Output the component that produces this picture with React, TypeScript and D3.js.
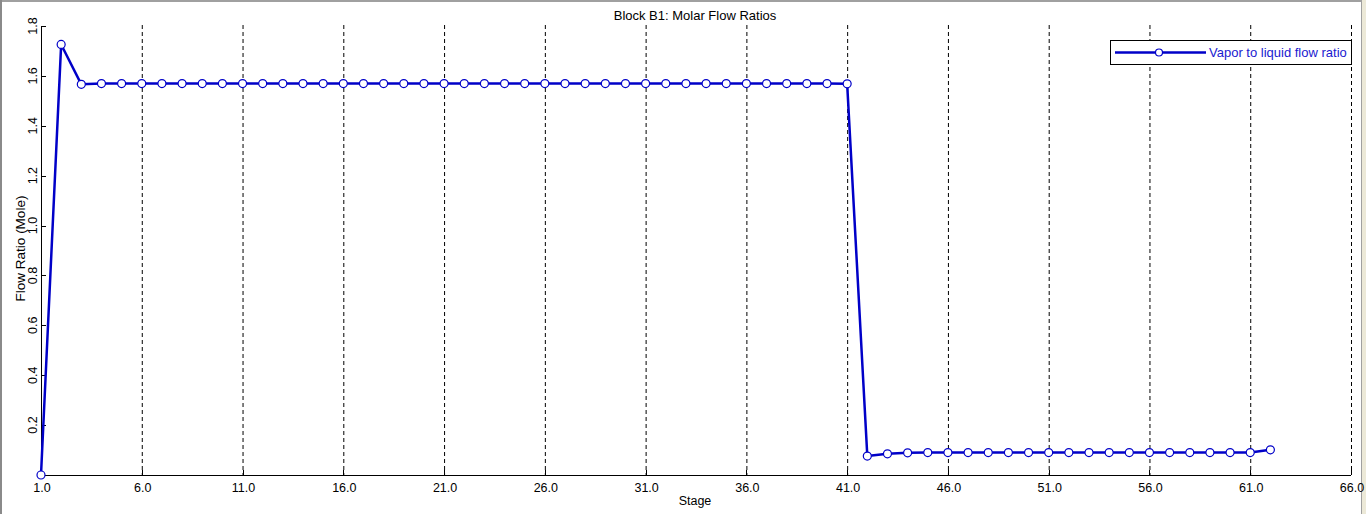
import { useEffect, useRef } from "react";
import * as d3 from "d3";

// stages 1..62 and the vapor/liquid molar flow ratio
const stages = d3.range(1, 63);
const vlRatio = [
    0.0, 1.726, 1.566, 1.569, 1.569, 1.569, 1.569, 1.569, 1.569, 1.569,
    1.569, 1.569, 1.569, 1.569, 1.569, 1.569, 1.569, 1.569, 1.569, 1.569,
    1.569, 1.569, 1.569, 1.569, 1.569, 1.569, 1.569, 1.569, 1.569, 1.569,
    1.569, 1.569, 1.569, 1.569, 1.569, 1.569, 1.569, 1.569, 1.569, 1.569,
    1.568, 0.076, 0.085, 0.089, 0.09, 0.09, 0.09, 0.09, 0.09, 0.09,
    0.09, 0.09, 0.09, 0.09, 0.09, 0.09, 0.09, 0.09, 0.09, 0.09,
    0.09, 0.101,
];
const xTicks = [1, 6, 11, 16, 21, 26, 31, 36, 41, 46, 51, 56, 61, 66];
const yTicks = [0.2, 0.4, 0.6, 0.8, 1.0, 1.2, 1.4, 1.6, 1.8];

const W = 1366;
const H = 514;
const LINE = "#0000c8";
const FONT = "Arial, 'Liberation Sans', sans-serif";

export default function App() {
    const svgRef = useRef<SVGSVGElement>(null);

    useEffect(() => {
        if (!svgRef.current) return;
        const svg = d3.select(svgRef.current);
        svg.selectAll("*").remove();

        const margin = { top: 26, right: 15, bottom: 39, left: 41 };
        const x = d3.scaleLinear().domain([1, 66]).range([margin.left, W - margin.right]);
        const y = d3.scaleLinear().domain([0, 1.8]).range([H - margin.bottom, margin.top]);

        svg.append("rect").attr("width", W).attr("height", H).attr("fill", "#fff");

        // window frame
        svg.append("rect").attr("x", 0).attr("y", 0).attr("width", W).attr("height", 2).attr("fill", "#a0a0a0");
        svg.append("rect").attr("x", 0).attr("y", 0).attr("width", 2).attr("height", H).attr("fill", "#8a8a8a");
        svg.append("rect").attr("x", 1362).attr("y", 0).attr("width", 4).attr("height", H).attr("fill", "#ece9d8");
        svg.append("rect").attr("x", 1361).attr("y", 0).attr("width", 1).attr("height", H).attr("fill", "#a0a0a0");

        // dashed vertical grid
        svg.append("g").selectAll("line").data(xTicks.slice(1)).join("line")
            .attr("x1", d => x(d) + 0.5).attr("x2", d => x(d) + 0.5)
            .attr("y1", y(1.8) - 1).attr("y2", y(0))
            .attr("stroke", "#000").attr("stroke-width", 1).attr("stroke-dasharray", "4,3");

        // axes
        const axisG = svg.append("g").attr("shape-rendering", "crispEdges");
        axisG.append("line").attr("x1", x(1)).attr("x2", x(66)).attr("y1", y(0) + 0.5).attr("y2", y(0) + 0.5)
            .attr("stroke", "#000");
        axisG.append("line").attr("x1", x(1) + 0.5).attr("x2", x(1) + 0.5).attr("y1", y(1.8)).attr("y2", y(0))
            .attr("stroke", "#000");
        axisG.selectAll("line.yt").data(yTicks).join("line").attr("class", "yt")
            .attr("x1", x(1)).attr("x2", x(1) + 5).attr("y1", d => Math.round(y(d)) + 0.5).attr("y2", d => Math.round(y(d)) + 0.5)
            .attr("stroke", "#000");
        axisG.selectAll("line.xt").data(xTicks).join("line").attr("class", "xt")
            .attr("x1", d => x(d) + 0.5).attr("x2", d => x(d) + 0.5).attr("y1", y(0)).attr("y2", y(0) - 5)
            .attr("stroke", "#000");

        svg.append("g").selectAll("text").data(xTicks).join("text")
            .attr("x", d => x(d) + 1).attr("y", y(0) + 17)
            .attr("text-anchor", "middle").attr("font-family", FONT).attr("font-size", 12.5).attr("fill", "#000")
            .text(d => d.toFixed(1));

        svg.append("g").selectAll("text").data(yTicks).join("text")
            .attr("transform", d => `translate(${x(1) - 4},${y(d)}) rotate(-90)`)
            .attr("text-anchor", "middle").attr("font-family", FONT).attr("font-size", 12.5).attr("fill", "#000")
            .text(d => d.toFixed(1));

        svg.append("text").attr("x", (x(1) + x(66)) / 2 - 1).attr("y", H - 9)
            .attr("text-anchor", "middle").attr("font-family", FONT).attr("font-size", 12.5).attr("fill", "#000")
            .text("Stage");

        svg.append("text").attr("transform", `translate(${25},${(y(0) + y(1.8)) / 2 - 2}) rotate(-90)`)
            .attr("text-anchor", "middle").attr("font-family", FONT).attr("font-size", 13.5).attr("fill", "#000")
            .text("Flow Ratio (Mole)");

        svg.append("text").attr("x", (x(1) + x(66)) / 2 - 1).attr("y", 20)
            .attr("text-anchor", "middle").attr("font-family", FONT).attr("font-size", 13).attr("fill", "#000")
            .text("Block B1: Molar Flow Ratios");

        // series
        const pts = stages.map((s, i) => [s, vlRatio[i]] as [number, number]);
        const line = d3.line<[number, number]>().x(d => x(d[0])).y(d => y(d[1]));
        svg.append("path").attr("d", line(pts)).attr("fill", "none")
            .attr("stroke", LINE).attr("stroke-width", 2.5).attr("stroke-linejoin", "round");
        svg.append("g").selectAll("circle").data(pts).join("circle")
            .attr("cx", d => x(d[0])).attr("cy", d => y(d[1])).attr("r", 4)
            .attr("fill", "#fff").attr("stroke", LINE).attr("stroke-width", 1.2);

        // legend
        const lg = svg.append("g").attr("transform", "translate(1110,40)");
        lg.append("rect").attr("x", 0.5).attr("y", 0.5).attr("width", 241).attr("height", 24)
            .attr("fill", "#fff").attr("stroke", "#000").attr("shape-rendering", "crispEdges");
        lg.append("line").attr("x1", 5).attr("x2", 96).attr("y1", 12.5).attr("y2", 12.5)
            .attr("stroke", LINE).attr("stroke-width", 2.5);
        lg.append("circle").attr("cx", 49).attr("cy", 12.5).attr("r", 3.5)
            .attr("fill", "#fff").attr("stroke", LINE).attr("stroke-width", 1.2);
        lg.append("text").attr("x", 99).attr("y", 17)
            .attr("font-family", FONT).attr("font-size", 13).attr("fill", "#1a1ad0")
            .text("Vapor to liquid flow ratio");
    }, []);

    return (
        <svg ref={svgRef} width={W} height={H}
            style={{ position: "fixed", left: 0, top: 0, display: "block" }} />
    );
}
